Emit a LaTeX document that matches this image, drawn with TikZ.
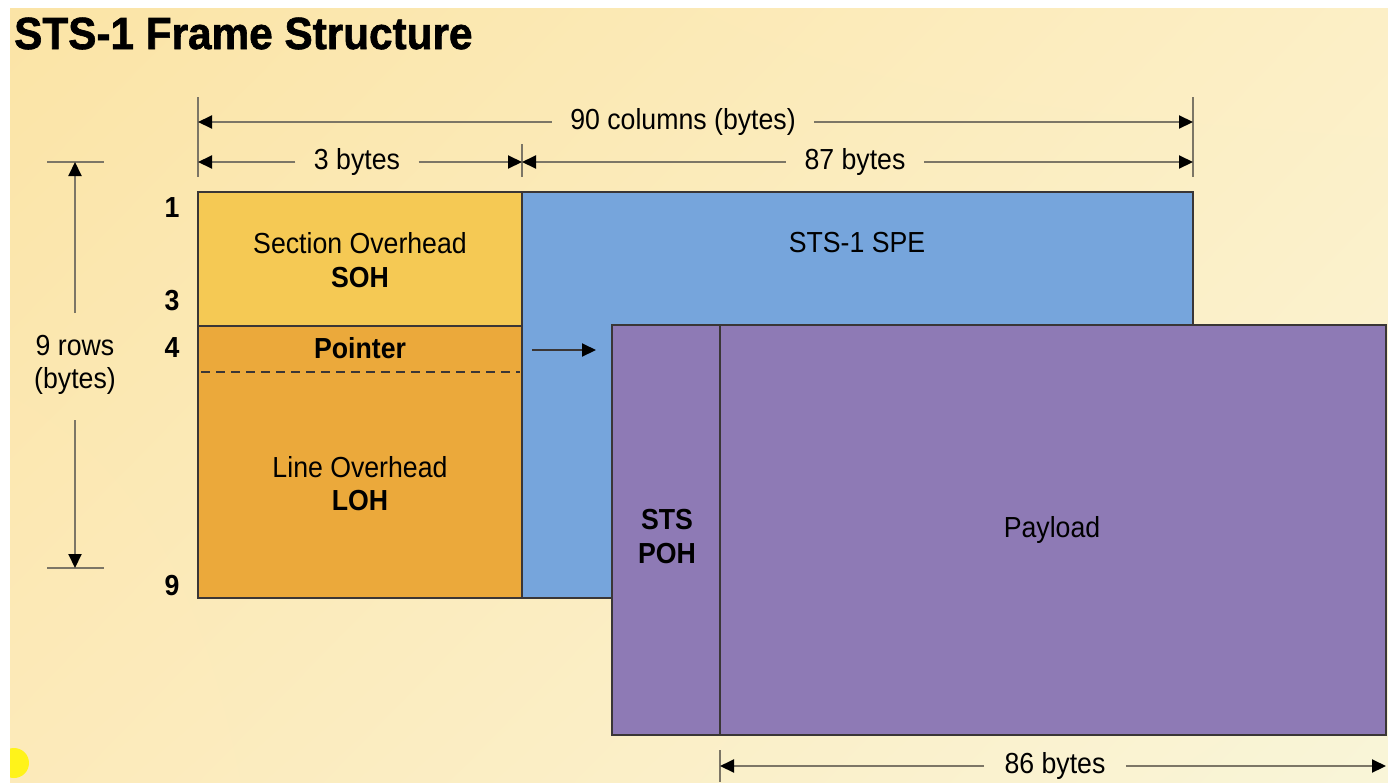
\documentclass[tikz,border=0pt]{standalone}
\usepackage{fontspec}
\setmainfont{Liberation Sans}
\newfontfamily\heavyfont[FakeBold=1.5]{Liberation Sans Bold}
\usetikzlibrary{arrows.meta,shadings}
\definecolor{bgUL}{HTML}{FBE4A6}
\definecolor{bgUR}{HTML}{FCEFC6}
\definecolor{bgLL}{HTML}{FCEABA}
\definecolor{bgLR}{HTML}{F9F5D8}
\definecolor{sohcol}{HTML}{F5C954}
\definecolor{lohcol}{HTML}{EBA93B}
\definecolor{specol}{HTML}{76A5DC}
\definecolor{purcol}{HTML}{8E7AB5}
\definecolor{dimgray}{HTML}{7C7666}
\definecolor{edgecol}{HTML}{3A3636}
\tikzset{
  dimarrow/.style={draw=dimgray, line width=2pt, -{Triangle[length=14pt,width=13pt,color=black]}},
  dimtick/.style={draw=dimgray, line width=2pt},
  boxfill/.style={draw=edgecol, line width=1.3pt},
  lbl/.style={font=\fontsize{29}{34}\selectfont, inner sep=0pt, xscale=0.92},
  blbl/.style={font=\bfseries\fontsize{29}{34}\selectfont, inner sep=0pt, xscale=0.92},
}
\begin{document}
\begin{tikzpicture}[x=1pt,y=-1pt]
\useasboundingbox (0,0) rectangle (1388,782);
\fill[white] (0,0) rectangle (1388,782);
\begin{scope}
\clip (10,8) rectangle (1388,782);
\shade[upper left=bgUL, upper right=bgUR, lower left=bgLL, lower right=bgLR] (10,8) rectangle (1388,782);
\fill[yellow!90!white] (14,763) circle (15);
\end{scope}

% title
\node[anchor=base west, font=\heavyfont\fontsize{45}{50}\selectfont, inner sep=0pt, xscale=0.94] (title) at (14,49) {STS-1 Frame Structure};

% boxes
\draw[boxfill, fill=sohcol] (198,192) rectangle (522,326);
\draw[boxfill, fill=lohcol] (198,326) rectangle (522,598);
\draw[boxfill, fill=specol] (522,192) rectangle (1193,598);
\draw[draw=edgecol, line width=1.2pt, dash pattern=on 9pt off 6pt] (201,372) -- (520,372);
\draw[boxfill, fill=purcol] (612,325) rectangle (1386,735);
\draw[draw=edgecol, line width=1.3pt] (720,325) -- (720,735);

% box texts
\node[lbl] (soh1) at (360,243) {Section Overhead};
\node[blbl] (soh2) at (360,278) {SOH};
\node[blbl] (ptr) at (360,348) {Pointer};
\node[lbl] (loh1) at (360,467) {Line Overhead};
\node[blbl] (loh2) at (360,501) {LOH};
\node[lbl] (spe) at (857,243) {STS-1 SPE};
\node[blbl] (poh1) at (667,520) {STS};
\node[blbl] (poh2) at (667,554) {POH};
\node[lbl] (pay) at (1052,530) {Payload};

% pointer arrow
\coordinate (pa) at (532,350);
\coordinate (pb) at (596,350);
\draw[dimarrow, draw=edgecol] (pa) -- (pb);

% row numbers
\node[blbl] (r1) at (172,208) {1};
\node[blbl] (r3) at (172,301) {3};
\node[blbl] (r4) at (172,348) {4};
\node[blbl] (r9) at (172,586) {9};

% top dimension ticks
\coordinate (tl1) at (198,97);  \coordinate (tl2) at (198,177);
\coordinate (tr1) at (1193,97); \coordinate (tr2) at (1193,177);
\coordinate (tm1) at (522,144); \coordinate (tm2) at (522,177);
\draw[dimtick] (tl1) -- (tl2);
\draw[dimtick] (tr1) -- (tr2);
\draw[dimtick] (tm1) -- (tm2);

% 90 columns
\node[lbl, inner xsep=20pt] (t90) at (683,122) {90 columns (bytes)};
\coordinate (L90) at (198,122); \coordinate (R90) at (1193,122);
\draw[dimarrow] (t90) -- (L90);
\draw[dimarrow] (t90) -- (R90);

% 3 bytes
\node[lbl, inner xsep=20pt] (t3) at (357,162) {3 bytes};
\coordinate (L3) at (198,162); \coordinate (R3) at (522,162);
\draw[dimarrow] (t3) -- (L3);
\draw[dimarrow] (t3) -- (R3);

% 87 bytes
\node[lbl, inner xsep=20pt] (t87) at (855,162) {87 bytes};
\coordinate (L87) at (522,162); \coordinate (R87) at (1193,162);
\draw[dimarrow] (t87) -- (L87);
\draw[dimarrow] (t87) -- (R87);

% 9 rows
\coordinate (vt1) at (47,162); \coordinate (vt2) at (104,162);
\coordinate (vb1) at (47,568); \coordinate (vb2) at (104,568);
\draw[dimtick] (vt1) -- (vt2);
\draw[dimtick] (vb1) -- (vb2);
\node[lbl] (rows1) at (75,346) {9 rows};
\node[lbl] (rows2) at (75,381) {(bytes)};
\coordinate (va) at (75,313); \coordinate (vat) at (75,162);
\coordinate (vb) at (75,420); \coordinate (vbt) at (75,568);
\draw[dimarrow] (va) -- (vat);
\draw[dimarrow] (vb) -- (vbt);

% 86 bytes
\coordinate (bt1) at (720,750); \coordinate (bt2) at (720,782);
\draw[dimtick] (bt1) -- (bt2);
\node[lbl, inner xsep=22pt] (t86) at (1055,766) {86 bytes};
\coordinate (L86) at (720,766); \coordinate (R86) at (1386,766);
\draw[dimarrow] (t86) -- (L86);
\draw[dimarrow] (t86) -- (R86);
\end{tikzpicture}
\end{document}
